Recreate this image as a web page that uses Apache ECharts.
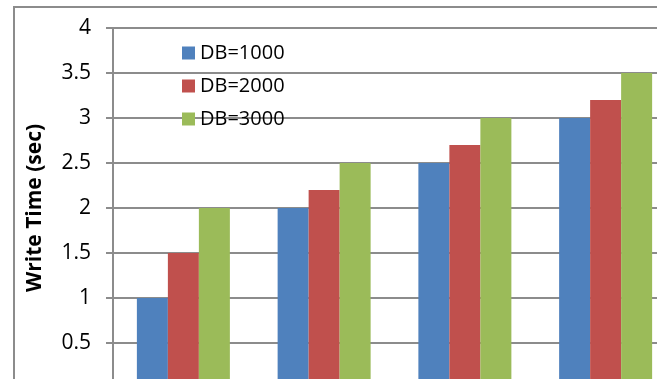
<!DOCTYPE html>
<html>
<head>
<meta charset="utf-8">
<script src="https://cdn.jsdelivr.net/npm/echarts@6/dist/echarts.min.js"></script>
<style>
  html, body { margin: 0; padding: 0; background: #fff; }
  #chart { width: 662px; height: 379px; }
</style>
</head>
<body>
<div id="chart"></div>
<script>
// four groups, labels are cut off in the original picture
const categories = ['A', 'B', 'C', 'D']
const db1000 = [1, 2, 2.5, 3]
const db2000 = [1.5, 2.2, 2.7, 3.2]
const db3000 = [2, 2.5, 3, 3.5]

const chart = echarts.init(document.getElementById('chart'))
const font = '"Open Sans", Lato, sans-serif'

function bar(name, data, color) {
  return {
    name: name,
    type: 'bar',
    data: data,
    barWidth: 31,
    barGap: '0%',
    itemStyle: { color: color },
    animation: false
  }
}

chart.setOption({
  animation: false,
  textStyle: { fontFamily: font },
  grid: { left: 113, top: 28, width: 563, height: 360, outerBoundsMode: 'none', containLabel: false },
  legend: {
    orient: 'vertical',
    left: 182,
    top: 43,
    padding: 0,
    itemWidth: 13,
    itemHeight: 13,
    itemGap: 13,
    icon: 'rect',
    textStyle: { fontSize: 20, color: '#000', fontFamily: font, lineHeight: 20 },
    data: ['DB=1000', 'DB=2000', 'DB=3000']
  },
  xAxis: {
    type: 'category',
    data: categories,
    axisLine: { lineStyle: { color: '#8c8c8c', width: 2 } },
    axisTick: { show: false },
    axisLabel: { show: false }
  },
  yAxis: {
    type: 'value',
    min: 0,
    max: 4,
    interval: 0.5,
    name: 'Write Time (sec)',
    nameLocation: 'middle',
    nameGap: 67,
    nameTextStyle: { fontSize: 21, fontWeight: 'bold', color: '#000', fontFamily: font },
    axisLine: { show: true, lineStyle: { color: '#8c8c8c', width: 2 } },
    axisTick: { show: true, length: 7, lineStyle: { color: '#8c8c8c', width: 2 } },
    axisLabel: {
      margin: 22,
      fontSize: 21,
      color: '#000',
      fontFamily: font,
      showMinLabel: false
    },
    splitLine: { lineStyle: { color: '#8c8c8c', width: 2 } }
  },
  graphic: [
    {
      type: 'rect',
      shape: { x: 14, y: 7, width: 700, height: 500 },
      style: { fill: 'none', stroke: '#8c8c8c', lineWidth: 2 },
      z: 10
    },
    {
      type: 'rect',
      shape: { x: 657, y: 0, width: 10, height: 379 },
      style: { fill: '#fff' },
      z: 11
    }
  ],
  series: [
    bar('DB=1000', db1000, '#4F81BD'),
    bar('DB=2000', db2000, '#C0504D'),
    bar('DB=3000', db3000, '#9BBB59')
  ]
})
</script>
</body>
</html>
